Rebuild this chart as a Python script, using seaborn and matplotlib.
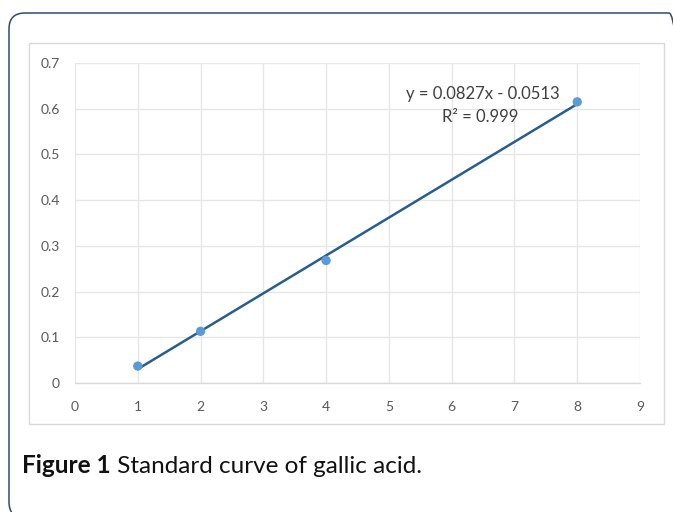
import matplotlib
matplotlib.use("Agg")
import matplotlib.pyplot as plt
from matplotlib.patches import FancyBboxPatch, Rectangle
from matplotlib.transforms import IdentityTransform
import numpy as np
import pandas as pd
import seaborn as sns

# Data
concentration = [1, 2, 4, 8]
absorbance = [0.037, 0.113, 0.268, 0.615]
x_ticks = [0, 1, 2, 3, 4, 5, 6, 7, 8, 9]
y_ticks = [0, 0.1, 0.2, 0.3, 0.4, 0.5, 0.6, 0.7]
y_tick_labels = ["0", "0.1", "0.2", "0.3", "0.4", "0.5", "0.6", "0.7"]
equation_text = "y = 0.0827x - 0.0513"
r2_text = "R² = 0.999"
caption_bold = "Figure 1"
caption_rest = " Standard curve of gallic acid."

df = pd.DataFrame({"x": concentration, "y": absorbance})

sns.set_theme(style="white")
plt.rcParams["font.family"] = ["Lato", "DejaVu Sans"]

W, H = 673, 512
fig = plt.figure(figsize=(W / 100, H / 100), dpi=100)
fig.patch.set_facecolor("white")

# outer rounded frame (pixel coords, origin bottom-left; extends past right/bottom)
frame = FancyBboxPatch((9, H - 518), 676, 518 - 13,
                       boxstyle="round,pad=0,rounding_size=16",
                       transform=IdentityTransform(), facecolor="none",
                       edgecolor="#2f4a6b", linewidth=1.1, zorder=0)
fig.patches.append(frame)

# inner chart box
box = Rectangle((29, H - 424), 664 - 29, 424 - 43,
                transform=IdentityTransform(), facecolor="none",
                edgecolor="#d9d9d9", linewidth=1.0, zorder=0)
fig.patches.append(box)

ax = fig.add_axes([75 / W, 1 - 383 / H, (640 - 75) / W, (383 - 63) / H])
ax.set_facecolor("none")

sns.regplot(data=df, x="x", y="y", ax=ax, ci=None, scatter=False,
            truncate=True, line_kws={"color": "#275d8f", "linewidth": 1.8, "zorder": 3})
sns.scatterplot(data=df, x="x", y="y", ax=ax, color="#5b9bd5", s=45,
                edgecolor="none", zorder=4, clip_on=False)

ax.set_xlim(0, 9)
ax.set_ylim(0, 0.7)
ax.set_xticks(x_ticks)
ax.set_yticks(y_ticks)
ax.set_yticklabels(y_tick_labels)
ax.set_xlabel("")
ax.set_ylabel("")
ax.grid(True, color="#e6e6e6", linewidth=1.0)
ax.set_axisbelow(True)
for s in ["top", "right", "left"]:
    ax.spines[s].set_visible(False)
ax.spines["bottom"].set_color("#d9d9d9")
ax.spines["bottom"].set_linewidth(1.0)
ax.tick_params(axis="both", length=0, labelsize=10, labelcolor="#595959")
ax.tick_params(axis="x", pad=13)
ax.tick_params(axis="y", pad=11)

ax.text(6.50, 0.633, equation_text, ha="center", va="center",
        fontsize=12, color="#404040")
ax.text(6.46, 0.581, r2_text, ha="center", va="center",
        fontsize=12, color="#404040")

# caption
base_y = 1 - 473 / H
t = fig.text(22 / W, base_y, caption_bold, fontsize=17.5, fontweight="bold",
             color="#111111", va="baseline", ha="left")
fig.canvas.draw()
bb = t.get_window_extent()
fig.text(bb.x1 / W, base_y, caption_rest, fontsize=17.5,
         color="#111111", va="baseline", ha="left")

fig.savefig("out.png", dpi=100)
